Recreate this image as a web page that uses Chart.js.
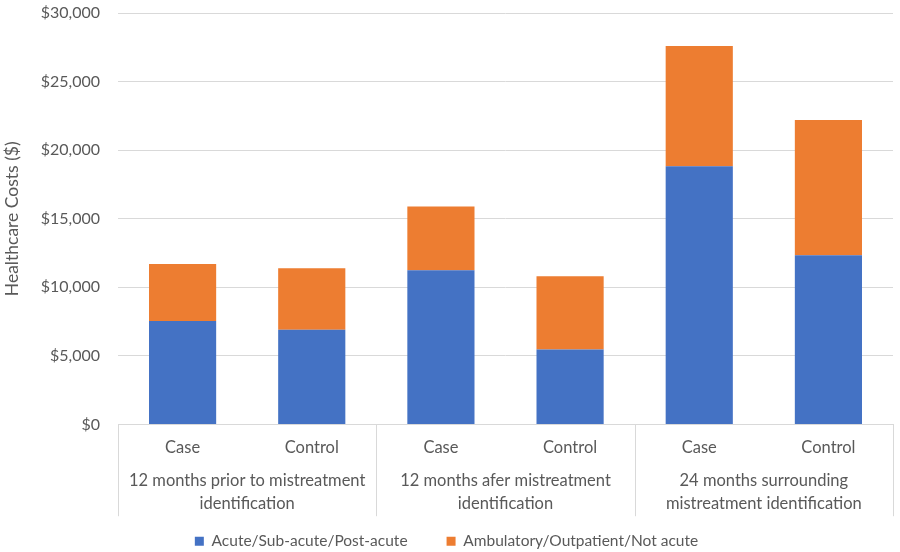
<!DOCTYPE html>
<html><head><meta charset="utf-8">
<script src="https://cdn.jsdelivr.net/npm/chart.js@4"></script>
<style>html,body{margin:0;padding:0;background:#fff}#wrap{width:900px;height:552px;position:relative}</style>
</head><body><div id="wrap"><canvas id="c"></canvas></div>
<script>
const subLabels = ["Case", "Control", "Case", "Control", "Case", "Control"];
const groupLabels = [
  ["12 months prior to mistreatment", "identification"],
  ["12 months afer mistreatment", "identification"],
  ["24 months surrounding", "mistreatment identification"]
];
const seriesNames = ["Acute/Sub-acute/Post-acute", "Ambulatory/Outpatient/Not acute"];
const acute = [7550, 6900, 11250, 5470, 18830, 12340];
const ambulatory = [4150, 4500, 4650, 5330, 8770, 9860];
const yTicks = [0, 5000, 10000, 15000, 20000, 25000, 30000];

const FONT = "Lato, 'Open Sans', sans-serif";
const GREY = "#595959";
const GRID = "#d9d9d9";
const X2_PAD = 12.5;
const X2_LH = 1.4;
const X2_SIZE = 16.5;

function x2LabelBottom(s) { return s.top + X2_PAD + 2 * X2_SIZE * X2_LH; }

const separators = {
  id: 'separators',
  afterLayout(chart) {
    // let the two-line group labels draw past the scale box (labels are clipped to it)
    const s = chart.scales.x2;
    s.bottom = x2LabelBottom(s) + 4;
  },
  afterDraw(chart) {
    const x = chart.scales.x, x2 = chart.scales.x2, ctx = chart.ctx;
    const n = groupLabels.length, per = subLabels.length / n;
    const yEnd = x2LabelBottom(x2) + 1;
    ctx.save();
    ctx.strokeStyle = GRID; ctx.lineWidth = 1;
    for (let i = 0; i <= n; i++) {
      let px;
      if (i === 0) px = x.left;
      else if (i === n) px = x.right;
      else px = (x.getPixelForValue(i * per - 1) + x.getPixelForValue(i * per)) / 2;
      px = Math.round(px) + 0.5;
      ctx.beginPath(); ctx.moveTo(px, x.top); ctx.lineTo(px, yEnd); ctx.stroke();
    }
    ctx.restore();
  }
};

new Chart(document.getElementById('c'), {
  type: 'bar',
  data: {
    labels: subLabels,
    datasets: [
      { label: seriesNames[0], data: acute, backgroundColor: '#4472C4', xAxisID: 'x', barPercentage: 0.52, categoryPercentage: 1.0 },
      { label: seriesNames[1], data: ambulatory, backgroundColor: '#ED7D31', xAxisID: 'x', barPercentage: 0.52, categoryPercentage: 1.0 }
    ]
  },
  options: {
    responsive: true,
    maintainAspectRatio: false,
    animation: false,
    layout: { padding: { top: 3, right: 7, left: 0, bottom: -7 } },
    plugins: {
      legend: {
        position: 'bottom',
        labels: { font: { family: FONT, size: 15.5 }, color: GREY, boxWidth: 9, boxHeight: 9, padding: 39 }
      },
      tooltip: { enabled: false }
    },
    scales: {
      x: {
        stacked: true,
        position: 'bottom',
        grid: { display: false, drawTicks: false },
        border: { display: true, color: GRID },
        ticks: { font: { family: FONT, size: 16.5 }, color: GREY, padding: 13, maxRotation: 0, autoSkip: false },
        afterFit(scale) { scale.height = 32; }
      },
      x2: {
        type: 'category',
        labels: groupLabels,
        position: 'bottom',
        offset: true,
        grid: { display: false, drawTicks: false },
        border: { display: false },
        ticks: { font: { family: FONT, size: X2_SIZE, lineHeight: X2_LH }, color: GREY, padding: X2_PAD, maxRotation: 0, autoSkip: false },
        afterFit(scale) { scale.height = 38; }
      },
      y: {
        stacked: true,
        min: 0, max: 30000,
        afterBuildTicks(scale) { scale.ticks = yTicks.map(v => ({ value: v })); },
        grid: { color: GRID, drawTicks: true, tickLength: 14.6, tickColor: 'rgba(0,0,0,0)' },
        border: { display: false },
        title: { display: true, text: 'Healthcare Costs ($)', font: { family: FONT, size: 17.5 }, color: GREY, padding: { top: 2, bottom: 0 } },
        ticks: {
          font: { family: FONT, size: 16 }, color: GREY, padding: 3.4,
          callback: v => '$' + Number(v).toLocaleString('en-US')
        },
        afterFit(scale) { scale.width = 118; }
      }
    }
  },
  plugins: [separators]
});
</script>
</body></html>
